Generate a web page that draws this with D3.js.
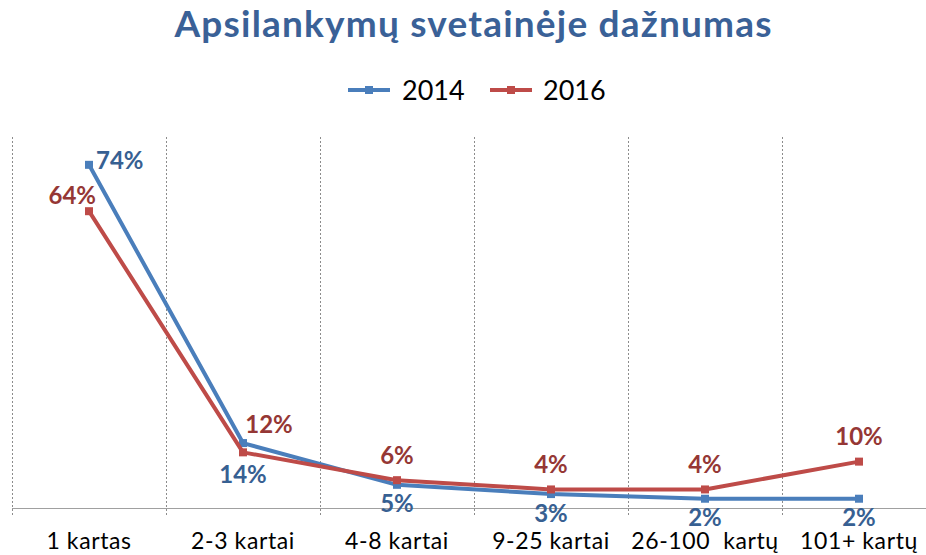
<!DOCTYPE html>
<html>
<head>
<meta charset="utf-8">
<script src="https://cdnjs.cloudflare.com/ajax/libs/d3/7.8.5/d3.min.js"></script>
<style>
  html, body { margin: 0; padding: 0; background: #fff; }
  svg { display: block; }
  text { white-space: pre; }
</style>
</head>
<body>
<svg id="chart" width="926" height="555"></svg>
<script>
const title = "Apsilankymų svetainėje dažnumas";
const categories = ["1 kartas", "2-3 kartai", "4-8 kartai", "9-25 kartai", "26-100  kartų", "101+ kartų"];
const seriesNames = ["2014", "2016"];
const values2014 = [74, 14, 5, 3, 2, 2];
const values2016 = [64, 12, 6, 4, 4, 10];
const yMax = 80;

const series = [
  { name: seriesNames[0], values: values2014, line: "#4A7EBB", label: "#376092", pos: "below" },
  { name: seriesNames[1], values: values2016, line: "#BE4B48", label: "#953735", pos: "above" }
];

const svg = d3.select("#chart");
const font = "Lato, 'Open Sans', sans-serif";

const x = d3.scaleBand().domain(categories).range([12, 936]);
const y = d3.scaleLinear().domain([0, yMax]).range([508, 137]);

// vertical dashed gridlines at category boundaries
const bounds = categories.map(c => x(c)).concat([x.range()[1]]);
svg.append("g").selectAll("line").data(bounds).join("line")
  .attr("x1", d => d + 0.5).attr("x2", d => d + 0.5)
  .attr("y1", y(yMax)).attr("y2", y(0) + 9)
  .attr("stroke", "#8c8c8c").attr("stroke-width", 1)
  .attr("stroke-dasharray", "2,2");

// x axis line
svg.append("line")
  .attr("x1", x.range()[0]).attr("x2", 926)
  .attr("y1", y(0) + 0.5).attr("y2", y(0) + 0.5)
  .attr("stroke", "#a0a0a0").attr("stroke-width", 1.2);

// x labels
svg.append("g").selectAll("text").data(categories).join("text")
  .attr("x", d => x(d) + x.bandwidth() / 2)
  .attr("y", 549)
  .attr("text-anchor", "middle")
  .attr("font-family", font).attr("font-size", 23)
  .attr("letter-spacing", 0.6)
  .attr("fill", "#000")
  .text(d => d);

const cx = (d, i) => x(categories[i]) + x.bandwidth() / 2;
const line = d3.line().x((d, i) => cx(d, i)).y(d => y(d));

series.forEach(s => {
  const g = svg.append("g");
  g.append("path").datum(s.values)
    .attr("d", line)
    .attr("fill", "none").attr("stroke", s.line)
    .attr("stroke-width", 4).attr("stroke-linejoin", "round");
  g.selectAll("rect").data(s.values).join("rect")
    .attr("x", (d, i) => cx(d, i) - 4).attr("y", d => y(d) - 4)
    .attr("width", 8).attr("height", 8)
    .attr("fill", s.line);
});

// data labels
series.forEach(s => {
  svg.append("g").selectAll("text").data(s.values).join("text")
    .attr("x", (d, i) => {
      if (i === 0) return cx(d, i) + 7;
      if (i === 1 && s.pos === "above") return cx(d, i) + 26;
      return cx(d, i);
    })
    .attr("y", (d, i) => {
      if (i === 0) return s.pos === "below" ? y(d) - 5 : y(d) - 17;
      if (s.pos === "below") return y(d) + (i === 1 ? 30 : 18);
      return y(d) - (i === 1 ? 29 : 26);
    })
    .attr("text-anchor", (d, i) => i === 0 ? (s.pos === "below" ? "start" : "end") : "middle")
    .attr("dominant-baseline", "central")
    .attr("font-family", font).attr("font-size", 24).attr("font-weight", "bold")
    .attr("fill", s.label)
    .text(d => d + "%");
});

// title
svg.append("text")
  .attr("x", 473).attr("y", 37)
  .attr("text-anchor", "middle")
  .attr("font-family", font).attr("font-size", 37).attr("font-weight", "bold")
  .attr("textLength", 597).attr("lengthAdjust", "spacing")
  .attr("fill", "#3A6197")
  .text(title);

// legend
const legendItems = [
  { s: series[0], x0: 348, tx: 402 },
  { s: series[1], x0: 490, tx: 543 }
];
const lg = svg.append("g");
legendItems.forEach(it => {
  lg.append("line").attr("x1", it.x0).attr("x2", it.x0 + 42)
    .attr("y1", 90).attr("y2", 90)
    .attr("stroke", it.s.line).attr("stroke-width", 4);
  lg.append("rect").attr("x", it.x0 + 17).attr("y", 86).attr("width", 8).attr("height", 8)
    .attr("fill", it.s.line);
  lg.append("text").attr("x", it.tx).attr("y", 100)
    .attr("font-family", font).attr("font-size", 27).attr("fill", "#000")
    .text(it.s.name);
});
</script>
</body>
</html>
